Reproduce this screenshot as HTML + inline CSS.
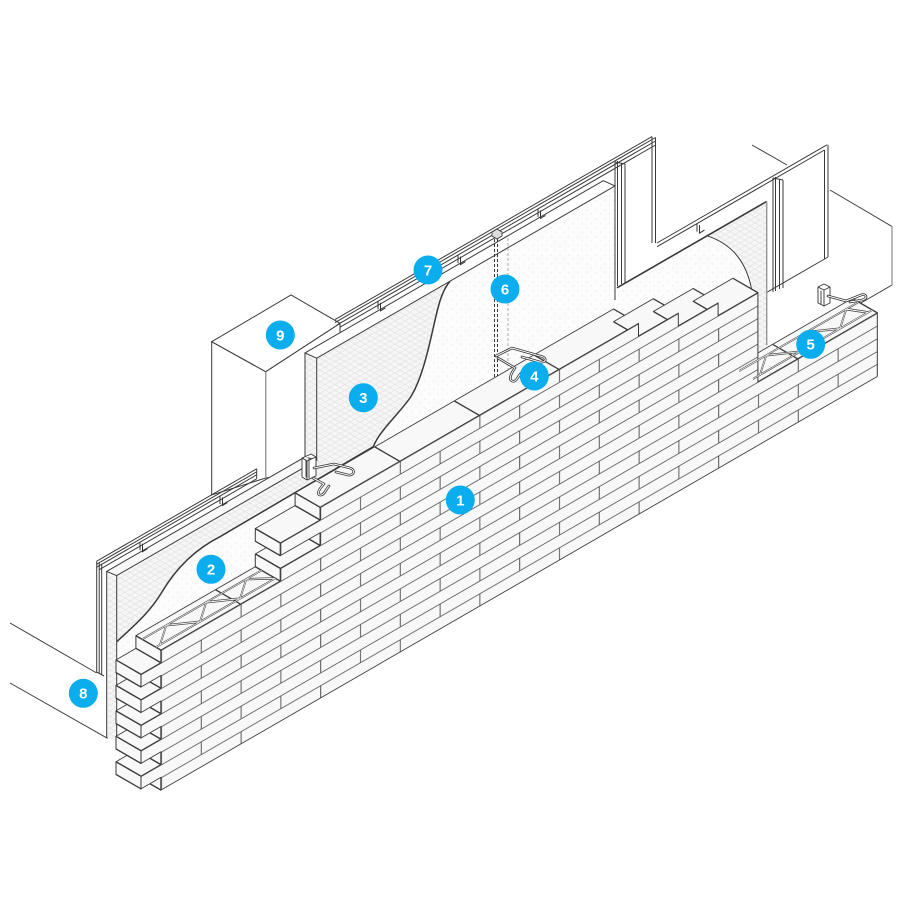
<!DOCTYPE html>
<html><head><meta charset="utf-8">
<style>html,body{margin:0;padding:0;background:#fff}svg{display:block}</style>
</head>
<body>
<svg xmlns="http://www.w3.org/2000/svg" width="900" height="900" viewBox="0 0 900 900">
<defs>
<pattern id="brk" patternUnits="userSpaceOnUse" x="1.7" y="-33.56" width="79.6" height="25.46">
<rect width="79.6" height="25.46" fill="#f8f8f8"/>
<path d="M0,0.6H79.6M0,13.33H79.6M40.4,0.6V13.33M0.6,13.33V25.46" stroke="#4a4a4a" stroke-width="0.9" fill="none"/>
</pattern>
<pattern id="h1" patternUnits="userSpaceOnUse" width="5" height="5" patternTransform="rotate(30)"><rect x="-1" y="-1" width="7" height="7" fill="#f6f6f6"/><path d="M0,0.5H5" stroke="#e0e0e0" stroke-width="0.6"/></pattern>
<pattern id="h2" patternUnits="userSpaceOnUse" width="5" height="5" patternTransform="rotate(-30)"><path d="M0,0.5H5" stroke="#e0e0e0" stroke-width="0.6"/></pattern>
<pattern id="st" patternUnits="userSpaceOnUse" width="9" height="9"><rect width="9" height="9" fill="#fcfcfc"/><circle cx="2" cy="3" r="0.45" fill="#cfcfcf"/><circle cx="6.5" cy="7" r="0.45" fill="#d6d6d6"/></pattern>
</defs>
<rect width="900" height="900" fill="#fff"/>

<!-- ground / slab lines -->
<g fill="none" stroke="#3a3a3a" stroke-width="1">
<path d="M10,623 L96.7,673 M10,683 L107,738 L128,726 M107,706 V738"/>
<path d="M752,145 L787,165 M830,190 L892,226.5 M860,303.5 L892,285"/>
<path d="M892,226.5 V285" stroke="#9a9a9a" stroke-width="1.4"/>
</g>

<!-- column 9 -->
<g stroke="#3a3a3a" stroke-width="1">
<polygon points="211.7,341.7 265.7,371.7 265.7,478 211.7,495" fill="#fff"/>
<polygon points="265.7,371.7 340,323.3 340,470 265.7,478" fill="#fff"/>
<polygon points="211.7,341.7 291,295 340,323.3 265.7,371.7" fill="#fff"/>
<path d="M265.7,371.7 V478" stroke="#9a9a9a" stroke-width="1.4"/>
</g>

<!-- back panels, tracks, studs -->
<g fill="none" stroke="#3a3a3a" stroke-width="1">
<path d="M335,319.6 L652,136.6 M335,322.6 L655.5,137.5 M337,324.9 L655.5,141 M340,327.2 L655.5,145"/>
<path d="M652,136.6 V243 M655.5,137.5 V243"/>
<path d="M657,243 L827,144.8 M657,246.7 L824.5,150 M828,144.8 V257 M824.5,150 V259 M828,257 L766.7,292.4"/>
<path d="M615,162 V287 M617.5,161 V286 M621.5,163 V284 M625,164 V283 M615,162 L625,164"/>
<path d="M773,178 V292 M775.5,177 V291 M779.5,179 V289 M783,180 V288 M773,178 L783,180"/>
<path d="M96.7,561.2 L256.7,468.8 M96.7,564.2 L256.7,471.8 M96.7,567.2 L256.7,474.8 M99,569.8 L256.7,478.8 M256.7,468.8 V478.8"/>
<path d="M96.7,561.2 V672 M99.2,562.8 V673.5 M101.7,564.3 V675 M96.7,672 L104,676"/>
</g>

<!-- insulation surfaces -->
<path d="M116.7,641.7 C135,625 150,612 162,592 C172,575 190,552 220,536.7 L373.3,446.7 C380,430 398,415 410,398 C425,375 432,330 438,308 C441,296 445,287 450,281.2 L615,185.9 L615,485 L116.7,772 Z" fill="url(#st)"/>
<path d="M617,287.8 L707,235.8 Q745,248 752,292 L752,420 L617,420 Z" fill="url(#st)"/>
<g>
<path d="M316.7,358.2 L450,281.2 C445,287 441,296 438,308 C432,330 425,375 410,398 C398,415 380,430 373.3,446.7 L220,536.7 C190,552 172,575 162,592 C150,612 135,625 116.7,641.7 L116.7,575.6 L316.7,460.2 Z" fill="url(#h1)"/>
<path d="M316.7,358.2 L450,281.2 C445,287 441,296 438,308 C432,330 425,375 410,398 C398,415 380,430 373.3,446.7 L220,536.7 C190,552 172,575 162,592 C150,612 135,625 116.7,641.7 L116.7,575.6 L316.7,460.2 Z" fill="url(#h2)"/>
<path d="M707,235.8 L766.7,201.4 L766.7,400 L752,400 L752,292 Q745,248 707,235.8 Z" fill="url(#h1)"/>
<path d="M707,235.8 L766.7,201.4 L766.7,400 L752,400 L752,292 Q745,248 707,235.8 Z" fill="url(#h2)"/>
<path d="M305,352.9 L316.7,358.2 L316.7,460.2 L305,456.9 Z" fill="url(#h1)"/>
<path d="M305,352.9 L316.7,358.2 L316.7,460.2 L305,456.9 Z" fill="url(#h2)"/>
<path d="M106.7,571.4 L116.7,575.6 L116.7,742 L106.7,737 Z" fill="url(#h1)"/>
<path d="M106.7,571.4 L116.7,575.6 L116.7,742 L106.7,737 Z" fill="url(#h2)"/>
</g>
<g stroke="#3a3a3a" stroke-width="1" fill="none">
<polygon points="305,352.9 603.3,180.7 615,185.9 316.7,358.2" fill="#fff"/>
<polygon points="106.7,571.4 305,456.9 316.7,460.2 116.7,575.6" fill="#f8f8f8"/>
<path d="M305,352.9 V456.9 M316.7,358.2 V460.2 M615,185.9 V300 M106.7,571.4 V737 M116.7,575.6 V742"/>
<path d="M116.7,641.7 C135,625 150,612 162,592 C172,575 190,552 220,536.7 L373.3,446.7 C380,430 398,415 410,398 C425,375 432,330 438,308 C441,296 445,287 450,281.2" stroke-width="1.5"/>
<path d="M617,287.8 L766.7,201.4" stroke-width="1.6"/>
<path d="M707,235.8 Q745,248 752,292"/>
<path d="M766.7,201.4 V345" stroke="#9a9a9a" stroke-width="1.5"/>
</g>

<!-- item 6 dashed -->
<g fill="none">
<path d="M494.5,234 V377 M497.5,234 V377" stroke="#333" stroke-width="1" stroke-dasharray="3 2"/>
<path d="M508,238 V369" stroke="#aaa" stroke-width="1" stroke-dasharray="3 2"/>
<path d="M492,232 L497,229 L502,232 V236 L497,239 L492,236 Z" fill="#ddd" stroke="#333" stroke-width="0.8"/>
</g>

<!-- BRICKS (skew coordinates: x=u, y=v-0.57735u) -->
<g transform="matrix(1 -0.57735 0 1 0 0)" stroke="#3a3a3a" stroke-width="1" stroke-linejoin="round" fill="#f8f8f8">
<polygon points="160.9,870.27 160.9,883 135.9,854.14 135.9,841.41"/>
<polygon points="160.9,844.81 160.9,857.54 135.9,828.68 135.9,815.95"/>
<polygon points="160.9,819.35 160.9,832.08 135.9,803.22 135.9,790.49"/>
<polygon points="160.9,793.89 160.9,806.62 135.9,777.76 135.9,765.03"/>
<polygon points="160.9,768.43 160.9,781.16 135.9,752.30 135.9,739.57"/>
<polygon points="160.9,742.97 160.9,755.70 135.9,726.84 135.9,714.11"/>
<polygon points="141,857.54 141,870.27 116,841.41 116,828.68"/>
<polygon points="141,857.54 160.9,857.54 135.9,828.68 116,828.68"/>
<polygon points="141,832.08 141,844.81 116,815.95 116,803.22"/>
<polygon points="141,832.08 160.9,832.08 135.9,803.22 116,803.22"/>
<polygon points="141,806.62 141,819.35 116,790.49 116,777.76"/>
<polygon points="141,806.62 160.9,806.62 135.9,777.76 116,777.76"/>
<polygon points="141,781.16 141,793.89 116,765.03 116,752.30"/>
<polygon points="141,781.16 160.9,781.16 135.9,752.30 116,752.30"/>
<polygon points="141,755.70 141,768.43 116,739.57 116,726.84"/>
<polygon points="141,755.70 160.9,755.70 135.9,726.84 116,726.84"/>
<polygon points="160.9,742.97 280.3,742.97 255.3,714.11 135.9,714.11"/>
<polygon points="280.3,730.24 320.1,730.24 295.1,701.38 255.3,701.38"/>
<polygon points="280.3,730.24 280.3,742.97 255.3,714.11 255.3,701.38"/>
<polygon points="320.1,717.51 320.1,730.24 295.1,701.38 295.1,688.65"/>
<polygon points="280.3,704.78 280.3,717.51 255.3,688.65 255.3,675.92"/>
<polygon points="280.3,704.78 320.1,704.78 295.1,675.92 255.3,675.92"/>
<polygon points="320.1,692.05 320.1,704.78 295.1,675.92 295.1,663.19"/>
<polygon points="320.1,692.05 638.5,692.05 613.5,663.19 295.1,663.19"/>
<polygon points="638.5,704.78 678.3,704.78 653.3,675.92 613.5,675.92"/>
<polygon points="678.3,717.51 718.1,717.51 693.1,688.65 653.3,688.65"/>
<polygon points="718.1,730.24 757.9,730.24 732.9,701.38 693.1,701.38"/>
<polygon points="757.9,819.35 877.3,819.35 852.3,790.49 732.9,790.49"/>
<path fill="none" d="M399.7,692.05 L374.7,663.19 M479.3,692.05 L454.3,663.19 M558.9,692.05 L533.9,663.19 M797.7,819.35 L772.7,790.49 M240.5,742.97 L215.5,714.11"/>
<polygon fill="url(#brk)" points="160.9,883 877.3,883 877.3,819.35 757.9,819.35 757.9,730.24 718.1,730.24 718.1,717.51 678.3,717.51 678.3,704.78 638.5,704.78 638.5,692.05 320.1,692.05 320.1,704.78 280.3,704.78 280.3,717.51 320.1,717.51 320.1,730.24 280.3,730.24 280.3,742.97 160.9,742.97 160.9,755.70 141,755.70 141,768.43 160.9,768.43 160.9,781.16 141,781.16 141,793.89 160.9,793.89 160.9,806.62 141,806.62 141,819.35 160.9,819.35 160.9,832.08 141,832.08 141,844.81 160.9,844.81 160.9,857.54 141,857.54 141,870.27 160.9,870.27"/>
<g fill="none" stroke-linejoin="round">
<path stroke="#444" stroke-width="2.1" d="M155.9,737.2 H275.3 M142.15,721.32 H261.55 M160,737.2 L166.25,721.32 L200,737.2 L206.25,721.32 L240,737.2 L246.25,721.32 L275,737.2"/>
<path stroke="#fff" stroke-width="0.8" d="M155.9,737.2 H275.3 M142.15,721.32 H261.55 M160,737.2 L166.25,721.32 L200,737.2 L206.25,721.32 L240,737.2 L246.25,721.32 L275,737.2"/>
<path stroke="#444" stroke-width="2.1" d="M752.9,813.58 H872.3 M739.15,797.7 H858.55 M760,813.58 L766.25,797.7 L800,813.58 L806.25,797.7 L840,813.58 L846.25,797.7 L868,813.58"/>
<path stroke="#fff" stroke-width="0.8" d="M752.9,813.58 H872.3 M739.15,797.7 H858.55 M760,813.58 L766.25,797.7 L800,813.58 L806.25,797.7 L840,813.58 L846.25,797.7 L868,813.58"/>
</g>
</g>

<!-- wire ties & brackets -->
<g fill="none" stroke-linecap="round" stroke-linejoin="round">
<path d="M302,458 L311,454 L316,457 L316,476 L307,480 L302,477 Z M306,460 V477 M309,459 V478 M302,458 L307,461 L316,457 M307,461 V480" fill="#fff" stroke="#333" stroke-width="0.9"/>
<path d="M314,468 L334,464 L350,468 C356,470 354,476 348,475 L336,472 M313,478 L324,484 C320,488 316,494 320,495 C324,496 326,489 329,486" stroke="#333" stroke-width="2.6"/>
<path d="M314,468 L334,464 L350,468 C356,470 354,476 348,475 L336,472 M313,478 L324,484 C320,488 316,494 320,495 C324,496 326,489 329,486" stroke="#fff" stroke-width="1"/>
<path d="M496,356 L512,348 L540,356 C547,357 547,363 540,362 L522,357 M498,358 L515,368 C512,372 508,379 512,381 C516,383 518,376 522,372" stroke="#333" stroke-width="2.6"/>
<path d="M496,356 L512,348 L540,356 C547,357 547,363 540,362 L522,357 M498,358 L515,368 C512,372 508,379 512,381 C516,383 518,376 522,372" stroke="#fff" stroke-width="1"/>
<path d="M818,287 L824,284 L830,287 L830,303 L824,306 L818,303 Z M818,287 L824,290 L830,287 M824,290 V306 M821,291 V304" fill="#fff" stroke="#333" stroke-width="0.9"/>
<path d="M828,296 L846,301 L861,295 C867,293 868,299 862,300 L850,302" stroke="#333" stroke-width="2.6"/>
<path d="M828,296 L846,301 L861,295 C867,293 868,299 862,300 L850,302" stroke="#fff" stroke-width="1"/>
</g>

<!-- small track clips -->
<g fill="none" stroke="#333" stroke-width="1">
<path d="M378,301.3 v8 M380.5,302.8 v8 l5,-3"/>
<path d="M458,255.1 v8 M460.5,256.6 v8 l5,-3"/>
<path d="M538,208.9 v8 M540.5,210.4 v8 l5,-3"/>
<path d="M697,223.6 v8 M699.5,225.1 v8 l5,-3"/>
<path d="M140,542.2 v8 M142.5,543.7 v8 l5,-3"/>
<path d="M220,496 v8 M222.5,497.5 v8 l5,-3"/>
</g>

<!-- labels -->
<g font-family="'Liberation Sans', Arial, sans-serif" font-weight="bold" font-size="15" fill="#fff" text-anchor="middle">
<circle cx="460.3" cy="500" r="14.5" fill="#0aadee"/><text x="460.3" y="505.3">1</text>
<circle cx="211" cy="569.3" r="14.5" fill="#0aadee"/><text x="211" y="574.6">2</text>
<circle cx="363.3" cy="397.7" r="14.5" fill="#0aadee"/><text x="363.3" y="403">3</text>
<circle cx="534.3" cy="376" r="14.5" fill="#0aadee"/><text x="534.3" y="381.3">4</text>
<circle cx="810.7" cy="344.3" r="14.5" fill="#0aadee"/><text x="810.7" y="349.6">5</text>
<circle cx="505" cy="289" r="14.5" fill="#0aadee"/><text x="505" y="294.3">6</text>
<circle cx="428" cy="270" r="14.5" fill="#0aadee"/><text x="428" y="275.3">7</text>
<circle cx="83.3" cy="693.3" r="14.5" fill="#0aadee"/><text x="83.3" y="698.6">8</text>
<circle cx="280.3" cy="335" r="14.5" fill="#0aadee"/><text x="280.3" y="340.3">9</text>
</g>
</svg>
</body></html>
